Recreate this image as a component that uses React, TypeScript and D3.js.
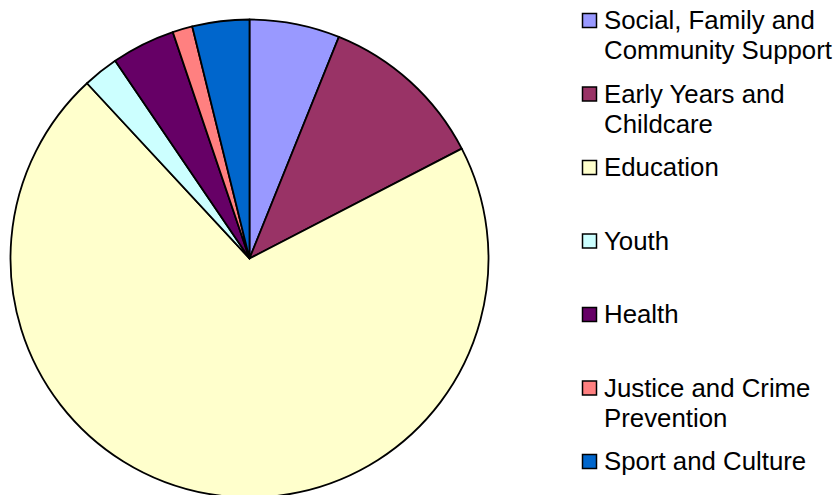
import React from 'react';
import * as d3 from 'd3';

const categories = [
  'Social, Family and Community Support',
  'Early Years and Childcare',
  'Education',
  'Youth',
  'Health',
  'Justice and Crime Prevention',
  'Sport and Culture',
];
// legend text as wrapped in the original
const legendLines = [
  ['Social, Family and', 'Community Support'],
  ['Early Years and', 'Childcare'],
  ['Education'],
  ['Youth'],
  ['Health'],
  ['Justice and Crime', 'Prevention'],
  ['Sport and Culture'],
];
const shares = [6.1, 11.3, 70.7, 2.4, 4.3, 1.35, 3.85];
const colors = ['#9999FF', '#993366', '#FFFFCC', '#CCFFFF', '#660066', '#FF8080', '#0066CC'];

const W = 836;
const H = 495;
const cx = 249.5;
const cy = 258.5;
const radius = 239;

const App = () => {
  const pie = d3.pie<number>().sort(null).value((d) => d);
  const arc = d3.arc<d3.PieArcDatum<number>>().innerRadius(0).outerRadius(radius);
  const arcs = pie(shares);

  const legendX = 582;
  const legendTop = 29;
  const slot = 73.5;
  const lineH = 30;

  return (
    <div style={{ position: 'absolute', left: 0, top: 0 }}>
      <svg width={W} height={H} style={{ display: 'block', background: '#fff' }}>
        <g transform={`translate(${cx},${cy})`}>
          {arcs.map((a, i) => (
            <path
              key={categories[i]}
              d={arc(a) || ''}
              fill={colors[i]}
              stroke="#000"
              strokeWidth={1.8}
              strokeLinejoin="round"
            />
          ))}
        </g>
        <g fontFamily="'Liberation Sans', Arial, sans-serif" fontSize={25.8} fill="#000">
          {legendLines.map((lines, i) => {
            const y = legendTop + i * slot;
            return (
              <g key={categories[i]}>
                <rect
                  x={legendX + 0.5}
                  y={y - 15.5}
                  width={14}
                  height={14}
                  fill={colors[i]}
                  stroke="#000"
                  strokeWidth={1.5}
                />
                {lines.map((t, j) => (
                  <text key={j} x={604} y={y + j * lineH}>
                    {t}
                  </text>
                ))}
              </g>
            );
          })}
        </g>
      </svg>
    </div>
  );
};

export default App;
